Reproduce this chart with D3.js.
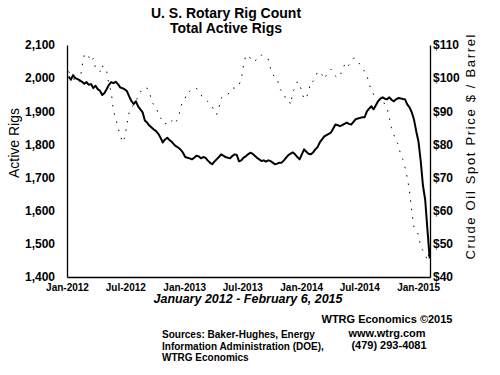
<!DOCTYPE html>
<html>
<head>
<meta charset="utf-8">
<script src="https://cdn.jsdelivr.net/npm/d3@7"></script>
<style>
  body { margin: 0; background: #fff; }
  svg { display: block; font-family: Arial, "Liberation Sans", sans-serif; }
</style>
</head>
<body>
<div id="chart"></div>
<script>
// weekly Baker-Hughes count, first release Jan 6 2012, one value per week
const firstWeek = new Date(2012, 0, 6);

const rigCount = [
  2005, 1995, 2009, 2000, 1997, 1993, 1989, 1983, 1988, 1980,
  1982, 1970, 1977, 1967, 1962, 1949, 1955, 1967, 1980, 1988,
  1985, 1989, 1982, 1972, 1970, 1966, 1961, 1945, 1931, 1922,
  1930, 1915, 1906, 1897, 1872, 1866, 1857, 1851, 1845, 1840,
  1832, 1820, 1806, 1815, 1820, 1813, 1808, 1800, 1794, 1790,
  1784, 1775, 1762, 1760, 1758, 1755, 1760, 1766, 1764, 1758,
  1762, 1760, 1752, 1745, 1740, 1748, 1755, 1762, 1770, 1766,
  1762, 1760, 1758, 1765, 1770, 1768, 1749, 1752, 1760, 1764,
  1770, 1775, 1772, 1766, 1760, 1755, 1750, 1752, 1748, 1752,
  1750, 1745, 1740, 1742, 1745, 1745, 1752, 1760, 1768, 1772,
  1776, 1770, 1762, 1755, 1770, 1785, 1778, 1772, 1770, 1776,
  1785, 1792, 1806, 1815, 1824, 1828, 1832, 1836, 1848, 1860,
  1858, 1855, 1858, 1862, 1866, 1862, 1860, 1868, 1876, 1878,
  1880, 1882, 1882, 1900, 1908, 1915, 1906, 1918, 1930, 1938,
  1942, 1938, 1936, 1942, 1935, 1930, 1936, 1940, 1939, 1937,
  1936, 1921, 1912, 1897, 1875, 1840, 1809, 1750, 1676, 1633,
  1543, 1456
];

// crude oil spot price, $ per barrel, same weeks
const oilPrice = [
  102, 101, 100, 99, 98.5, 99, 103.5, 107, 106, 106.5,
  105, 106, 103, 103, 102, 104, 102, 102, 98, 96,
  90, 88, 85, 83, 80.6, 82, 86, 89.7, 91, 92,
  93.6, 94, 96, 96, 97, 97, 96, 93, 92, 91.5,
  89, 88, 87, 86, 87, 87.5, 87, 88, 87, 88,
  91.5, 93, 94, 96, 96, 96.7, 97, 97, 95.8, 95,
  94, 93.6, 93, 92, 91.5, 90, 89, 91, 94, 94.5,
  95, 95, 96, 97, 97, 97, 98, 99.7, 104, 106.7,
  107, 106, 106, 105, 106, 106, 107, 106.5, 106, 105.8,
  103, 101, 100.6, 100, 97, 96, 94.5, 94.2, 94, 92,
  96, 97, 99, 98, 96, 93.6, 94, 96, 99, 99,
  100, 102, 102, 101, 99.7, 101, 102, 102.7, 102, 100.6,
  100, 101, 102, 104, 103, 104, 105, 106, 106, 105,
  104, 103, 102, 101, 98, 96.7, 95, 94.5, 94, 93,
  93.5, 92, 91, 88, 85, 83, 81, 80, 77, 75.5,
  73, 70, 66, 60, 55, 54, 52.7, 49, 48, 46.7,
  45, 48
];

const xTickDates = ["2012-01", "2012-07", "2013-01", "2013-07", "2014-01", "2014-07", "2015-01"];
const xTickLabels = ["Jan-2012", "Jul-2012", "Jan-2013", "Jul-2013", "Jan-2014", "Jul-2014", "Jan-2015"];
const rigTicks = [1400, 1500, 1600, 1700, 1800, 1900, 2000, 2100];
const priceTicks = [40, 50, 60, 70, 80, 90, 100, 110];

const width = 500;
const height = 375;
const plotLeft = 67, plotRight = 430, plotTop = 45, plotBottom = 277;

const parseMonth = d3.timeParse("%Y-%m");
const weeks = rigCount.map((v, i) => ({
  date: d3.timeDay.offset(firstWeek, 7 * i),
  rigs: v,
  oil: oilPrice[i]
}));

const svg = d3.select("#chart").append("svg")
  .attr("width", width)
  .attr("height", height);

svg.append("rect").attr("width", width).attr("height", height).attr("fill", "#fff");

const x = d3.scaleTime()
  .domain([new Date(2012, 0, 1), new Date(2015, 1, 7)])
  .range([plotLeft, plotRight]);

const yRigs = d3.scaleLinear().domain([1400, 2100]).range([plotBottom, plotTop]);
const yOil = d3.scaleLinear().domain([40, 110]).range([plotBottom, plotTop]);

// axes
const axisLeft = d3.axisLeft(yRigs)
  .tickValues(rigTicks)
  .tickFormat(d3.format(","))
  .tickSize(0)
  .tickPadding(12);

const axisRight = d3.axisRight(yOil)
  .tickValues(priceTicks)
  .tickFormat(d => "$" + d)
  .tickSize(0)
  .tickPadding(3);

const axisBottom = d3.axisBottom(x)
  .tickValues(xTickDates.map(parseMonth))
  .tickFormat((d, i) => xTickLabels[i])
  .tickSize(0)
  .tickPadding(7);

const styleAxis = g => {
  g.select(".domain").attr("stroke", "#000").attr("stroke-width", 1.3);
  g.selectAll("text").attr("fill", "#000").attr("font-weight", "bold")
    .attr("font-family", "Arial, 'Liberation Sans', sans-serif");
};

svg.append("g")
  .attr("transform", `translate(${plotLeft},0)`)
  .call(axisLeft)
  .call(styleAxis)
  .selectAll("text").attr("font-size", 12);

svg.append("g")
  .attr("transform", `translate(${plotRight},0)`)
  .call(axisRight)
  .call(styleAxis)
  .selectAll("text").attr("font-size", 12);

svg.append("g")
  .attr("transform", `translate(0,${plotBottom})`)
  .call(axisBottom)
  .call(styleAxis)
  .selectAll("text").attr("font-size", 10);

// oil price, dotted
const oilLine = d3.line()
  .x(d => x(d.date))
  .y(d => yOil(d.oil));

svg.append("path")
  .datum(weeks)
  .attr("d", oilLine)
  .attr("fill", "none")
  .attr("stroke", "#000")
  .attr("stroke-width", 1)
  .attr("stroke-dasharray", "1.5,7");

// rig count, solid
const rigLine = d3.line()
  .x(d => x(d.date))
  .y(d => yRigs(d.rigs));

svg.append("path")
  .datum(weeks)
  .attr("d", rigLine)
  .attr("fill", "none")
  .attr("stroke", "#000")
  .attr("stroke-width", 2)
  .attr("stroke-linejoin", "round");

// titles
svg.append("text")
  .attr("x", 226).attr("y", 18)
  .attr("text-anchor", "middle")
  .attr("font-size", 14).attr("font-weight", "bold")
  .text("U. S. Rotary Rig Count");

svg.append("text")
  .attr("x", 226).attr("y", 33)
  .attr("text-anchor", "middle")
  .attr("font-size", 14).attr("font-weight", "bold")
  .text("Total Active Rigs");

svg.append("text")
  .attr("transform", "translate(19,143) rotate(-90)")
  .attr("text-anchor", "middle")
  .attr("font-size", 14)
  .text("Active Rigs");

svg.append("text")
  .attr("transform", "translate(475,147) rotate(-90)")
  .attr("text-anchor", "middle")
  .attr("font-size", 13)
  .attr("textLength", 225)
  .attr("lengthAdjust", "spacing")
  .text("Crude Oil Spot Price $ / Barrel");

svg.append("text")
  .attr("x", 248).attr("y", 303)
  .attr("text-anchor", "middle")
  .attr("font-size", 12.5).attr("font-weight", "bold").attr("font-style", "italic")
  .text("January 2012 - February 6, 2015");

// credits
const notes = svg.append("g").attr("font-size", 10).attr("font-weight", "bold");

notes.append("text").attr("x", 387).attr("y", 323).attr("text-anchor", "middle")
  .attr("font-size", 11).text("WTRG Economics  \u00A92015");
notes.append("text").attr("x", 387).attr("y", 337).attr("text-anchor", "middle")
  .attr("font-size", 11).text("www.wtrg.com");
notes.append("text").attr("x", 389).attr("y", 349).attr("text-anchor", "middle")
  .attr("font-size", 11).text("(479) 293-4081");

["Sources: Baker-Hughes, Energy", "Information Administration (DOE),", "WTRG Economics"]
  .forEach((t, i) => {
    notes.append("text").attr("x", 162).attr("y", 338 + i * 11.5).text(t);
  });
</script>
</body>
</html>
